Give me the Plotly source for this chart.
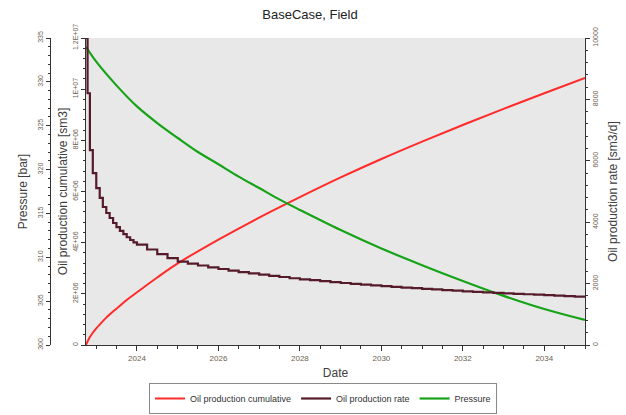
import plotly.graph_objects as go

# ---------------- data ----------------
rate_dates = ["2022-10-01", "2022-10-15", "2022-11-05", "2022-12-01", "2023-01-01",
              "2023-02-01", "2023-03-01", "2023-04-01", "2023-05-01", "2023-06-01",
              "2023-07-01", "2023-08-01", "2023-09-01", "2023-10-01", "2023-11-01",
              "2023-12-01",
              "2024-01-01", "2024-04-01", "2024-07-01", "2024-10-01",
              "2025-01-01", "2025-04-01", "2025-07-01", "2025-10-01",
              "2026-01-01", "2026-04-01", "2026-07-01", "2026-10-01",
              "2027-01-01", "2027-04-01", "2027-07-01", "2027-10-01",
              "2028-01-01", "2028-04-01", "2028-07-01", "2028-10-01",
              "2029-01-01", "2029-04-01", "2029-07-01", "2029-10-01",
              "2030-01-01", "2030-04-01", "2030-07-01", "2030-10-01",
              "2031-01-01", "2031-04-01", "2031-07-01", "2031-10-01",
              "2032-01-01", "2032-04-01", "2032-07-01", "2032-10-01",
              "2033-01-01", "2033-04-01", "2033-07-01", "2033-10-01",
              "2034-01-01", "2034-04-01", "2034-07-01", "2034-10-01",
              "2035-01-01"]
rate_values = [10000, 8200, 6350, 5600, 5110,
               4790, 4495, 4300, 4137, 3974,
               3840, 3720, 3610, 3510, 3420,
               3340,
               3270, 3110, 2960, 2830,
               2715, 2650, 2590, 2530,
               2475, 2425, 2375, 2330,
               2290, 2250, 2215, 2175,
               2140, 2110, 2080, 2050,
               2020, 1990, 1965, 1940,
               1915, 1895, 1870, 1850,
               1830, 1810, 1790, 1770,
               1750, 1733, 1716, 1700,
               1683, 1668, 1653, 1638,
               1623, 1608, 1593, 1578,
               1563]

cum_dates = ["2022-10-01", "2022-11-01", "2022-12-01", "2023-01-01", "2023-02-01",
             "2023-04-01", "2023-07-01", "2023-10-01", "2024-01-01", "2024-07-01",
             "2025-01-01", "2026-01-01", "2027-01-01", "2028-01-01", "2029-01-01",
             "2030-01-01", "2031-01-01", "2032-01-01", "2033-01-01", "2034-01-01",
             "2035-01-01"]
cum_values = [0, 0.28e6, 0.48e6, 0.65e6, 0.80e6,
              1.07e6, 1.42e6, 1.76e6, 2.06e6, 2.64e6,
              3.19e6, 4.12e6, 4.98e6, 5.78e6, 6.55e6,
              7.27e6, 7.95e6, 8.60e6, 9.23e6, 9.84e6,
              10.44e6]

pres_dates = ["2022-10-01", "2023-01-01", "2023-07-01", "2024-01-01", "2024-07-01",
              "2025-01-01", "2025-07-01", "2026-01-01", "2026-07-01", "2027-01-01",
              "2027-07-01", "2028-01-01", "2029-01-01", "2030-01-01", "2031-01-01",
              "2032-01-01", "2033-01-01", "2034-01-01", "2035-01-01"]
pres_values = [334.0, 332.3, 329.6, 327.2, 325.3,
               323.6, 322.0, 320.6, 319.2, 317.9,
               316.6, 315.4, 313.1, 311.0, 309.1,
               307.3, 305.6, 304.1, 302.85]

cum_tickvals = [0, 2e6, 4e6, 6e6, 8e6, 1e7, 1.2e7]
cum_ticktext = ["0", "2E+06", "4E+06", "6E+06", "8E+06", "1E+07", "1.2E+07"]

# ---------------- figure ----------------
W, H = 626, 415
L, R = 86, 585   # plot area pixel edges
TOP, BOT = 38, 345

FONT = "Liberation Sans, Arial, sans-serif"
TICKF = dict(family=FONT, size=7, color="#6b6150")
TITLEF = dict(family=FONT, size=12, color="#404040")

fig = go.Figure()
fig.add_trace(go.Scatter(x=cum_dates, y=cum_values, name="Oil production cumulative",
                         mode="lines", line=dict(color="#ff2a2a", width=2, shape="spline", smoothing=1),
                         yaxis="y"))
fig.add_trace(go.Scatter(x=rate_dates, y=rate_values, name="Oil production rate",
                         mode="lines", line=dict(color="#561b2b", width=2.2, shape="hv"),
                         yaxis="y3"))
fig.add_trace(go.Scatter(x=pres_dates, y=pres_values, name="Pressure",
                         mode="lines", line=dict(color="#17a317", width=2.2, shape="spline", smoothing=1),
                         yaxis="y2"))

common_y = dict(showgrid=False, zeroline=False, showline=True, linecolor="#333",
                linewidth=1, ticks="outside", ticklen=4, tickcolor="#333",
                tickangle=-90, tickfont=TICKF, title_font=TITLEF)

fig.update_layout(
    width=W, height=H,
    margin=dict(l=0, r=0, t=TOP, b=H - BOT, autoexpand=False),
    paper_bgcolor="white", plot_bgcolor="#e8e8e8",
    font=dict(family=FONT),
    title=dict(text="BaseCase, Field", x=310 / W, xanchor="center", y=1 - 14 / H,
               yanchor="middle", font=dict(family=FONT, size=13, color="#222")),
    xaxis=dict(domain=[L / W, R / W], type="date",
               range=["2022-10-01", "2035-01-01"],
               tick0="2024-01-01", dtick="M24", tickformat="%Y",
               showgrid=False, zeroline=False, showline=True, linecolor="#333",
               ticks="outside", ticklen=5, tickcolor="#333",
               tickfont=dict(family=FONT, size=8, color="#6b6150"),
               minor=dict(dtick="M6", tick0="2024-01-01", ticks="outside", ticklen=3, tickcolor="#333", showgrid=False),
               title=dict(text="Date", font=TITLEF, standoff=7)),
    yaxis=dict(range=[0, 1.2e7], tickvals=cum_tickvals, ticktext=cum_ticktext,
               minor=dict(dtick=4e5, ticks="outside", ticklen=2, tickcolor="#333", showgrid=False),
               title=dict(text="Oil production cumulative [sm3]", standoff=2),
               **common_y),
    yaxis2=dict(range=[300, 335], dtick=5, overlaying="y", anchor="free",
                position=50 / W, side="left",
                minor=dict(dtick=1, ticks="outside", ticklen=2, tickcolor="#333", showgrid=False),
                title=dict(text="Pressure [bar]", standoff=6),
                **common_y),
    yaxis3=dict(range=[0, 10000], dtick=2000, tickformat="d", overlaying="y",
                anchor="x", side="right",
                minor=dict(dtick=400, ticks="outside", ticklen=2, tickcolor="#333", showgrid=False),
                title=dict(text="Oil production rate [sm3/d]", standoff=10),
                **common_y),
    legend=dict(orientation="h", x=323 / W, xanchor="center",
                y=(BOT - 414) / (BOT - TOP), yanchor="bottom",
                bordercolor="#888", borderwidth=1, bgcolor="white",
                font=dict(family=FONT, size=9, color="#333"),
                itemwidth=30, tracegroupgap=0),
    showlegend=True,
)

fig.write_html("out.html")
